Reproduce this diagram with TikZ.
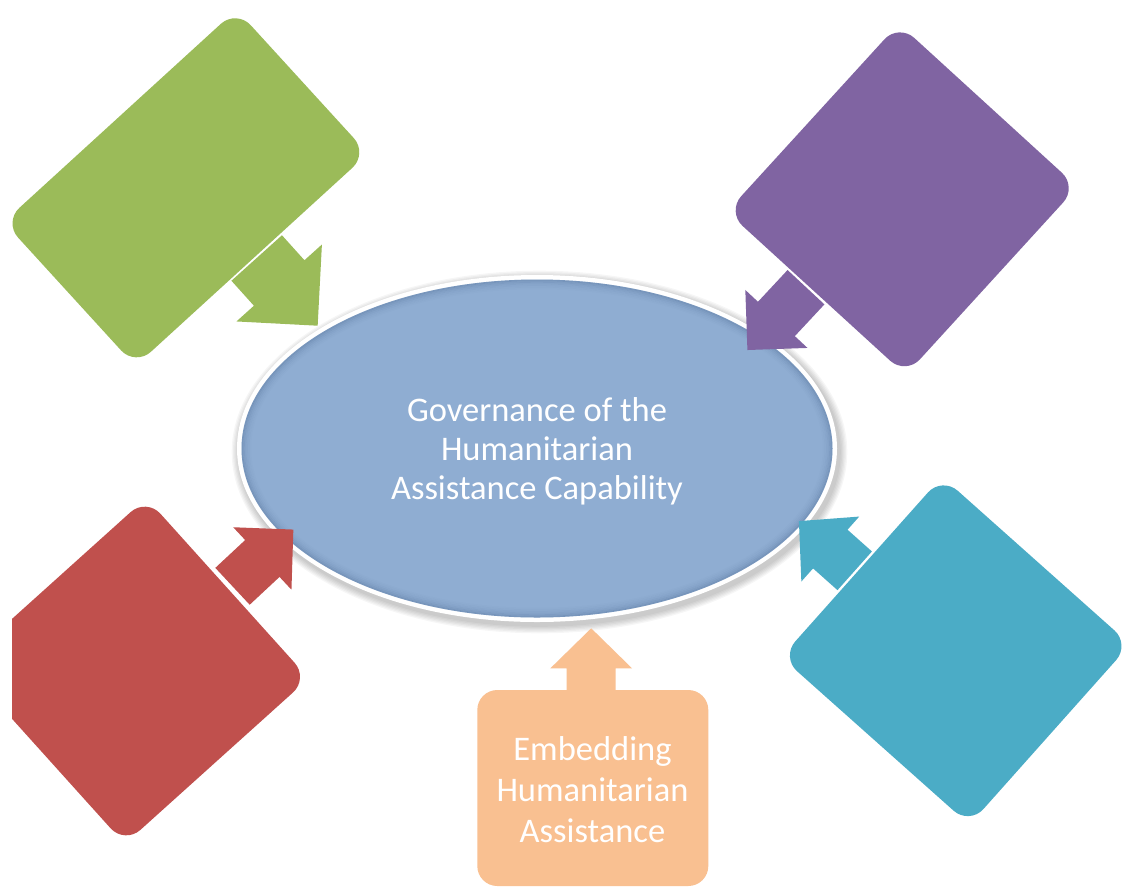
\documentclass[tikz,border=0pt]{standalone}
\usepackage{fontspec}
\setmainfont{Carlito}
\usetikzlibrary{shapes.geometric}

\definecolor{boxgreen}{HTML}{9BBB59}
\definecolor{boxpurple}{HTML}{8064A2}
\definecolor{boxred}{HTML}{C0504D}
\definecolor{boxteal}{HTML}{4BACC6}
\definecolor{boxpeach}{HTML}{F9C091}
\definecolor{hubblue}{HTML}{8FADD2}
\definecolor{hubedge}{HTML}{4A6890}

\tikzset{
  panel/.style={rectangle, rounded corners=21pt, inner sep=0pt, draw=none},
  hubtext/.style={text=white, align=center, inner sep=0pt,
                  font=\fontsize{34.5}{39}\selectfont},
  feedtext/.style={text=white, align=center, inner sep=0pt,
                   font=\fontsize{34.5}{41}\selectfont},
}

% block arrow: #1 base point, #2 direction (deg), #3 shaft length,
% #4 shaft width, #5 head width, #6 head length, #7 colour
\newcommand\blockarrow[7]{%
  \fill[#7, shift={#1}, rotate=#2]
    (0,-#4/2) -- (#3,-#4/2) -- (#3,-#5/2) -- ({#3+#6},0)
    -- (#3,#5/2) -- (#3,#4/2) -- (0,#4/2) -- cycle;}

\begin{document}
\begin{tikzpicture}[x=1pt, y=-1pt]
  \useasboundingbox (0,0) rectangle (1122,887);
  \fill[white] (0,0) rectangle (1122,887);

  % central hub: soft shadow, white rim, blue body with darker bevel
  \coordinate (hubc) at (537,448.5);
  \foreach \i in {1,...,6}
    \fill[black, opacity=0.035] (539.5,452) ellipse [x radius=300+1.3*\i, y radius=173.5+1.3*\i];
  \fill[white] (hubc) ellipse [x radius=300, y radius=173.5];
  \node[ellipse, fill=hubblue, minimum width=591pt, minimum height=338pt, inner sep=0pt] (hub) at (hubc) {};
  \foreach \k/\o in {0.8/0.32, 2.4/0.22, 4.0/0.15, 5.6/0.09, 7.2/0.05, 8.8/0.025}
    \draw[hubedge, line width=1.6pt, opacity=\o] (hubc) ellipse [x radius=295.5-\k, y radius=169-\k];
  \node[hubtext] (hubtxt) at (537,451) {Governance of the\\Humanitarian\\Assistance Capability};

  % surrounding panels
  \node[panel, fill=boxgreen, minimum width=315pt, minimum height=195pt, rotate=42.4]
    (green) at (185.9,187.8) {};
  \node[panel, fill=boxpurple, minimum width=254.6pt, minimum height=242pt, rotate=47.6]
    (purple) at (902.2,199.3) {};
  \node[panel, fill=boxteal, minimum width=252pt, minimum height=241.6pt, rotate=-41.7]
    (teal) at (955.7,650.75) {};
  \begin{scope}
    \clip (12,0) rectangle (1122,887);
    \node[panel, fill=boxred, minimum width=247.5pt, minimum height=242.7pt, rotate=42]
      (red) at (135.5,671) {};
  \end{scope}
  \node[panel, rounded corners=20pt, fill=boxpeach, minimum width=231pt, minimum height=196pt]
    (peach) at (592.8,788) {};
  \node[feedtext] (peachtxt) at (592.5,789.5) {Embedding\\Humanitarian\\Assistance};

  % block arrows from each panel towards the hub
  \coordinate (greenfoot)  at (256.7,258);
  \coordinate (purplefoot) at (806,287.2);
  \coordinate (tealfoot)   at (854.7,570.8);
  \coordinate (redfoot)    at (232.5,586.3);
  \coordinate (peachfoot)  at (591.2,690);
  \blockarrow{(greenfoot)}{-48}{33.6}{68}{115}{57.5}{boxgreen}
  \blockarrow{(purplefoot)}{-133}{43.4}{50.4}{85}{42.5}{boxpurple}
  \blockarrow{(tealfoot)}{138.3}{32.7}{51.8}{87}{42}{boxteal}
  \blockarrow{(redfoot)}{43}{40.8}{50.4}{85.4}{42.4}{boxred}
  \blockarrow{(peachfoot)}{90}{21.7}{49}{81.7}{40}{boxpeach}
\end{tikzpicture}
\end{document}
